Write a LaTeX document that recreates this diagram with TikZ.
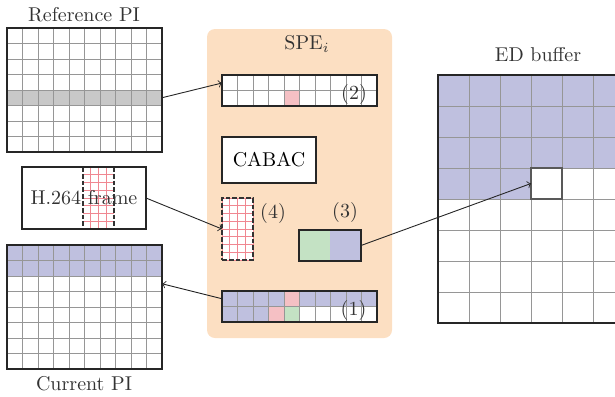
\documentclass[tikz,border=0pt]{standalone}
\usetikzlibrary{calc}
\definecolor{speorange}{RGB}{252,223,194}
\definecolor{mblue}{RGB}{191,192,223}
\definecolor{mgreen}{RGB}{196,226,196}
\definecolor{mpink}{RGB}{245,192,196}
\definecolor{mgray}{RGB}{200,200,200}
\definecolor{gridc}{RGB}{150,150,150}
\definecolor{redgrid}{RGB}{240,135,145}
\begin{document}
\begin{tikzpicture}[x=0.5pt,y=-0.5pt,
  frame/.style={draw=black!85, line width=1pt, inner sep=0pt, outer sep=0pt},
  cell/.style={inner sep=0pt, outer sep=0pt, draw=none},
  gridl/.style={draw=gridc, line width=0.45pt},
  redl/.style={draw=redgrid, line width=0.45pt},
  dashl/.style={draw=black!80, line width=0.9pt, dash pattern=on 2.4pt off 1pt},
  lbl/.style={inner sep=0pt, font=\normalsize, text=black!80},
  conn/.style={->, >=to, line width=0.45pt, draw=black!85}]
\clip (0,0) rectangle (615,396);

% ---------- Reference PI ----------
\node[lbl] (reftitle) at (84,15) {Reference PI};
\node[cell, fill=mgray, minimum width=77.5pt, minimum height=7.75pt] (refrow) at (84.5,97.75) {};
\foreach \i in {1,...,9} \draw[gridl] (7+\i*15.5,28) -- ++(0,124);
\foreach \j in {1,...,7} \draw[gridl] (7,28+\j*15.5) -- ++(155,0);
\node[frame, minimum width=77.5pt, minimum height=62pt] (refpi) at (84.5,90) {};

% ---------- H.264 frame ----------
\node[frame, fill=white, minimum width=62pt, minimum height=31pt] (h264) at (84,198) {};
\foreach \i in {1,...,3} \draw[redl] (83+\i*7.75,167) -- ++(0,62);
\foreach \j in {1,...,7} \draw[redl] (83,167+\j*7.75) -- ++(31,0);
\draw[dashl] (83,167) -- (83,229);
\draw[dashl] (114,167) -- (114,229);
\node[frame, minimum width=62pt, minimum height=31pt] at (84,198) {};
\node[lbl] (h264txt) at (84,198) {H.264 frame};

% ---------- Current PI ----------
\fill[mblue] (7,245) rectangle (162,276);
\foreach \i in {1,...,9} \draw[gridl] (7+\i*15.5,245) -- ++(0,124);
\foreach \j in {1,...,7} \draw[gridl] (7,245+\j*15.5) -- ++(155,0);
\node[frame, minimum width=77.5pt, minimum height=62pt] (curpi) at (84.5,307) {};
\coordinate (currow) at (162,283.75);
\node[lbl] (curtitle) at (84,384) {Current PI};

% ---------- SPE ----------
\fill[speorange, rounded corners=4pt] (207,29) rectangle (392,338);
\node[lbl] (spetitle) at (307,44) {SPE$_i$};

% (2)
\fill[white] (222,75) rectangle (377,106);
\fill[mpink] (284,90.5) rectangle (299.5,106);
\foreach \i in {1,...,9} \draw[gridl] (222+\i*15.5,75) -- ++(0,31);
\draw[gridl] (222,90.5) -- ++(155,0);
\node[frame, minimum width=77.5pt, minimum height=15.5pt] (b2) at (299.5,90.5) {};
\coordinate (b2in) at (222,83);
\node[lbl] (l2) at (354,94) {(2)};

% CABAC
\node[frame, fill=white, minimum width=47pt, minimum height=23pt] (cabac) at (269,160) {CABAC};

% (4)
\fill[white] (222,198) rectangle (253,260);
\foreach \i in {1,...,3} \draw[redl] (222+\i*7.75,198) -- ++(0,62);
\foreach \j in {1,...,7} \draw[redl] (222,198+\j*7.75) -- ++(31,0);
\draw[redl] (222,198) rectangle (253,260);
\node[cell, dashl, minimum width=15.5pt, minimum height=31pt] (b4) at (237.5,229) {};
\node[lbl] (l4) at (273,213) {(4)};

% (3)
\fill[mgreen] (299,230) rectangle (330,261);
\fill[mblue] (330,230) rectangle (361,261);
\node[frame, minimum width=31pt, minimum height=15.5pt] (b3) at (330,245.5) {};
\node[lbl] (l3) at (345,212) {(3)};

% (1)
\fill[mblue] (222,291) rectangle (377,306.5);
\fill[mpink] (284,291) rectangle (299.5,306.5);
\fill[mblue] (222,306.5) rectangle (268.5,322);
\fill[mpink] (268.5,306.5) rectangle (284,322);
\fill[mgreen] (284,306.5) rectangle (299.5,322);
\fill[white] (299.5,306.5) rectangle (377,322);
\foreach \i in {1,...,9} \draw[gridl] (222+\i*15.5,291) -- ++(0,31);
\draw[gridl] (222,306.5) -- ++(155,0);
\node[frame, minimum width=77.5pt, minimum height=15.5pt] (b1) at (299.5,306.5) {};
\coordinate (b1out) at (222,298.75);
\node[lbl] (l1) at (353.5,310) {(1)};

% ---------- ED buffer ----------
\node[lbl] (edtitle) at (538,55) {ED buffer};
\fill[mblue] (438,75) rectangle (748,168);
\fill[mblue] (438,168) rectangle (531,199);
\foreach \i in {1,...,9} \draw[gridl] (438+\i*31,75) -- ++(0,248);
\foreach \j in {1,...,7} \draw[gridl] (438,75+\j*31) -- ++(310,0);
\node[frame, minimum width=155pt, minimum height=124pt] (ed) at (593,199) {};
\node[cell, fill=white, draw=black!65, line width=1pt, minimum width=15.5pt, minimum height=15.5pt] (edcell) at (546.5,183.5) {};

% ---------- connectors ----------
\draw[conn] (refrow.east) -- (b2in);
\draw[conn] (h264.east) -- (b4.west);
\draw[conn] (b1out) -- (currow);
\draw[conn] (b3.east) -- (edcell.west);
\end{tikzpicture}
\end{document}
